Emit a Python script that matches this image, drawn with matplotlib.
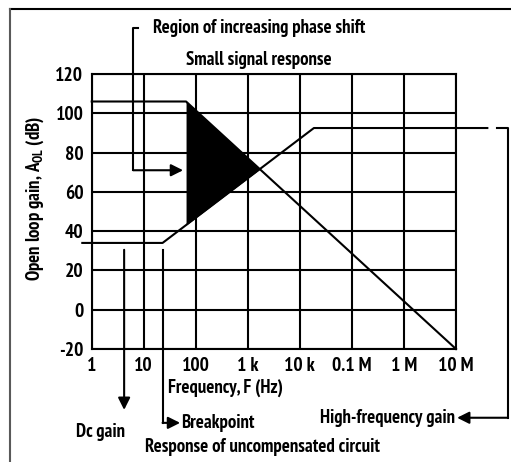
import numpy as np
import matplotlib
matplotlib.use("Agg")
import matplotlib.pyplot as plt
from matplotlib import font_manager
from matplotlib.lines import Line2D

# open loop gain curves (Hz, dB)
freq_uncomp = [0.66, 23, 18600, 4.0e7]
gain_uncomp = [34, 34, 92.5, 92.5]
freq_comp = [1, 65, 1e7]
gain_comp = [106, 106, -20]

xtick_vals = [1, 10, 100, 1e3, 1e4, 1e5, 1e6, 1e7]
xtick_labels = ['1', '10', '100', '1 k', '10 k', '0.1 M', '1 M', '10 M']
ytick_vals = [-20, 0, 20, 40, 60, 80, 100, 120]

names = {f.name for f in font_manager.fontManager.ttflist}
fam = 'DejaVu Sans'
for cand in ['PT Sans Narrow', 'Roboto Condensed']:
    if cand in names:
        fam = cand
        break
plt.rcParams['font.family'] = [fam, 'DejaVu Sans']
plt.rcParams['font.weight'] = 'bold'
plt.rcParams['font.stretch'] = 'condensed'
plt.rcParams['axes.unicode_minus'] = False
plt.rcParams['mathtext.fontset'] = 'custom'
plt.rcParams['mathtext.rm'] = fam + ':bold'
plt.rcParams['mathtext.it'] = fam + ':bold'

W, H = 511, 462
fig = plt.figure(figsize=(W / 100, H / 100), dpi=100)
ax = fig.add_axes([91.7 / W, 1 - 349 / H, (456 - 91.7) / W, (349 - 74) / H])


def px(x, y):
    return x / W, 1 - y / H


LW = 1.5
FS = 13.5

ax.set_xscale('log')
ax.set_xlim(1, 1e7)
ax.set_ylim(-20, 120)
ax.set_xticks(xtick_vals)
ax.set_xticklabels(xtick_labels)
ax.set_yticks(ytick_vals)
ax.xaxis.set_minor_locator(matplotlib.ticker.NullLocator())
ax.tick_params(length=0, labelsize=FS + 0.5)
ax.tick_params(axis='y', pad=6)
ax.tick_params(axis='x', pad=6)
ax.grid(True, color='k', lw=LW)
for s in ax.spines.values():
    s.set_linewidth(LW)

# curves
ax.plot(freq_uncomp, gain_uncomp, color='k', lw=LW, clip_on=False, zorder=3)
ax.plot(freq_comp, gain_comp, color='k', lw=LW, clip_on=False, zorder=3)

# shaded region between compensated and uncompensated responses
lf = np.linspace(np.log10(freq_comp[1]), np.log10(freq_comp[2]), 400)
up = np.interp(lf, np.log10(freq_comp), gain_comp)
lo = np.interp(lf, np.log10(freq_uncomp), gain_uncomp)
m = up >= lo
ax.fill_between(10 ** lf[m], lo[m], up[m], color='k', lw=0, zorder=3)

arrow = dict(arrowstyle='-|>', color='k', lw=LW, mutation_scale=18,
             shrinkA=0, shrinkB=0)

# region of increasing phase shift bracket
ax.plot([7.8, 6.3, 6.3], [143.4, 143.4, 71], color='k', lw=LW, clip_on=False)
ax.annotate('', xy=(57, 71), xytext=(6.3, 71), arrowprops=arrow,
            annotation_clip=False)

# dc gain arrow
ax.annotate('', xy=(4.2, -51), xytext=(4.2, 30.5), arrowprops=arrow,
            annotation_clip=False)

# breakpoint
ax.plot([23, 23], [30.5, -57.6], color='k', lw=LW, clip_on=False)
ax.annotate('', xy=(50, -57.6), xytext=(23, -57.6), arrowprops=arrow,
            annotation_clip=False)

# high-frequency gain bracket
ax.plot([6.2e7, 1e8, 1e8], [92.5, 92.5, -55], color='k', lw=LW, clip_on=False)
ax.annotate('', xy=(1.05e7, -55), xytext=(1e8, -55), arrowprops=arrow,
            annotation_clip=False)

tk = dict(fontsize=FS, fontweight='bold', va='center')
fig.text(*px(153, 28), 'Region of increasing phase shift', ha='left', **tk)
fig.text(*px(186, 60), 'Small signal response', ha='left', **tk)
fig.text(*px(226, 388), 'Frequency, F (Hz)', ha='center', **tk)
fig.text(*px(101, 432), 'Dc gain', ha='center', **tk)
fig.text(*px(181, 423), 'Breakpoint', ha='left', **tk)
fig.text(*px(262, 447), 'Response of uncompensated circuit', ha='center', **tk)
fig.text(*px(455, 418), 'High-frequency gain', ha='right', **tk)
fig.text(*px(35, 198), r'Open loop gain, $\mathregular{A_{OL}}$ (dB)', ha='center',
         rotation=90, **tk)

# scanned page border
fig.add_artist(Line2D([10 / W, 1], [1 - 9 / H] * 2, transform=fig.transFigure,
                      color='k', lw=LW))
fig.add_artist(Line2D([10 / W] * 2, [0, 1 - 9 / H], transform=fig.transFigure,
                      color='0.35', lw=LW))

fig.savefig('out.png', dpi=100)
